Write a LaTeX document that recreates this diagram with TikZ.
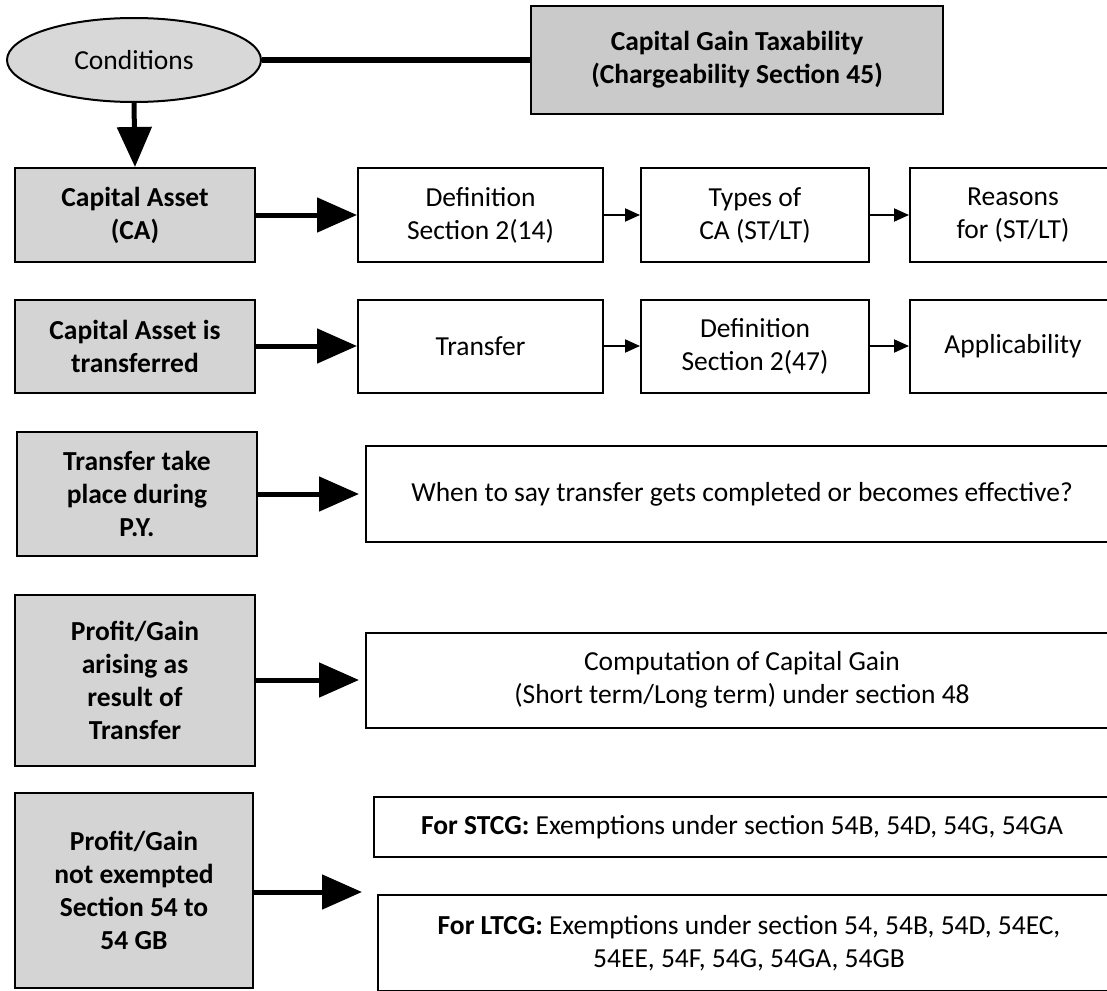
\documentclass[tikz,border=0pt]{standalone}
\usepackage{fontspec}
\setmainfont{Carlito}
\usetikzlibrary{arrows.meta,shapes.geometric}
\definecolor{boxgray}{RGB}{212,212,212}
\definecolor{cggray}{RGB}{202,202,202}
\definecolor{ellgray}{RGB}{216,216,216}
\tikzset{
  base/.style={draw, line width=2pt, inner sep=0pt, align=center, font=\fontsize{27.5}{33}\selectfont},
  graybox/.style={base, fill=boxgray, font=\fontsize{27.5}{33}\selectfont\bfseries},
  whitebox/.style={base, fill=white},
  bigarrow/.style={line width=5pt, -{Triangle[length=40pt,width=34pt]}},
  smallarrow/.style={line width=2pt, -{Triangle[length=15pt,width=13pt]}},
}
\begin{document}
\begin{tikzpicture}[x=1pt,y=-1pt]
\useasboundingbox (0,0) rectangle (1107,990);
\clip (0,0) rectangle (1107,990);
\fill[white] (0,0) rectangle (1107,990);

% top
\node[base, ellipse, fill=ellgray, minimum width=254pt, minimum height=84pt] (cond) at (134,60) {Conditions};
\node[graybox, fill=cggray, minimum width=412pt, minimum height=107pt] (cg) at (737,60) {Capital Gain Taxability\\(Chargeability Section 45)};

% row 1
\node[graybox, minimum width=240pt, minimum height=94pt] (ca) at (135,215) {Capital Asset\\(CA)};
\node[whitebox, minimum width=245pt, minimum height=94pt] (def1) at (480.5,215) {Definition\\Section 2(14)};
\node[whitebox, minimum width=228pt, minimum height=94pt] (types) at (755,215) {Types of\\CA (ST/LT)};
\node[whitebox, minimum width=206pt, minimum height=94pt] (reasons) at (1013,215) {Reasons\\for (ST/LT)};

% row 2
\node[graybox, minimum width=240pt, minimum height=93pt] (cat) at (135,346) {Capital Asset is\\transferred};
\node[whitebox, minimum width=245pt, minimum height=93pt] (transfer) at (480.5,346) {Transfer};
\node[whitebox, minimum width=228pt, minimum height=93pt] (def2) at (755,346) {Definition\\Section 2(47)};
\node[whitebox, minimum width=206pt, minimum height=93pt] (appl) at (1013,346) {Applicability};

% row 3
\node[graybox, minimum width=240pt, minimum height=124pt] (tpy) at (137,494) {Transfer take\\place during\\P.Y.};
\node[whitebox, minimum width=752pt, minimum height=96pt] (when) at (742,494) {When to say transfer gets completed or becomes effective?};

% row 4
\node[graybox, minimum width=240pt, minimum height=171pt] (pga) at (135,680) {Profit/Gain\\arising as\\result of\\Transfer};
\node[whitebox, minimum width=752pt, minimum height=95pt] (comp) at (742,680) {Computation of Capital Gain\\(Short term/Long term) under section 48};

% row 5
\node[graybox, minimum width=238pt, minimum height=195pt] (pgn) at (134,890) {Profit/Gain\\not exempted\\Section 54 to\\54 GB};
\node[whitebox, minimum width=736pt, minimum height=60pt] (stcg) at (742,827) {\textbf{For STCG:} Exemptions under section 54B, 54D, 54G, 54GA};
\node[whitebox, minimum width=742pt, minimum height=96pt] (ltcg) at (749,943) {\textbf{For LTCG:} Exemptions under section 54, 54B, 54D, 54EC,\\54EE, 54F, 54G, 54GA, 54GB};
\coordinate (tip5) at (362,892);

% connectors
\draw[line width=5pt] (cond.east) -- (cond.east -| cg.west);
\draw[bigarrow] (cond.south) -- (ca.north);
\draw[bigarrow] (ca.east) -- (def1.west);
\draw[smallarrow] (def1.east) -- (types.west);
\draw[smallarrow] (types.east) -- (reasons.west);
\draw[bigarrow] (cat.east) -- (transfer.west);
\draw[smallarrow] (transfer.east) -- (def2.west);
\draw[smallarrow] (def2.east) -- (appl.west);
\draw[bigarrow] (tpy.east) -- ([xshift=-6pt]when.west);
\draw[bigarrow] (pga.east) -- ([xshift=-6pt]comp.west);
\draw[bigarrow] (pgn.east |- tip5) -- (tip5);
\end{tikzpicture}
\end{document}
